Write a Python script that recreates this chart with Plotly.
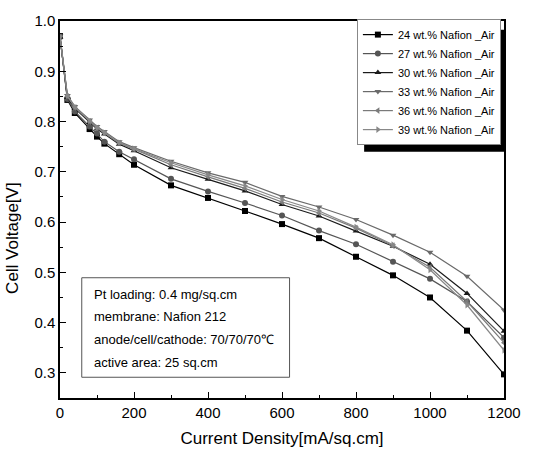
import plotly.graph_objects as go

# current density [mA/sq.cm]
current = [0, 20, 40, 80, 100, 120, 160, 200, 300, 400, 500, 600, 700, 800, 900, 1000, 1100, 1200]

# cell voltage [V] per Nafion loading
v24 = [0.970, 0.843, 0.817, 0.785, 0.770, 0.756, 0.735, 0.714, 0.673, 0.648, 0.622, 0.596, 0.568, 0.531, 0.494, 0.450, 0.384, 0.297]
v27 = [0.968, 0.845, 0.820, 0.790, 0.776, 0.760, 0.740, 0.725, 0.686, 0.661, 0.638, 0.613, 0.583, 0.556, 0.521, 0.487, 0.442, 0.370]
v30 = [0.968, 0.848, 0.826, 0.798, 0.785, 0.775, 0.755, 0.742, 0.708, 0.685, 0.662, 0.635, 0.612, 0.582, 0.552, 0.516, 0.458, 0.383]
v33 = [0.970, 0.852, 0.830, 0.803, 0.790, 0.780, 0.760, 0.748, 0.721, 0.698, 0.679, 0.651, 0.630, 0.605, 0.574, 0.540, 0.492, 0.425]
v36 = [0.968, 0.850, 0.828, 0.800, 0.787, 0.777, 0.757, 0.745, 0.714, 0.690, 0.667, 0.640, 0.618, 0.588, 0.553, 0.510, 0.442, 0.360]
v39 = [0.969, 0.851, 0.829, 0.801, 0.788, 0.778, 0.758, 0.746, 0.718, 0.694, 0.672, 0.645, 0.622, 0.590, 0.555, 0.505, 0.435, 0.345]

names = ['24 wt.% Nafion _Air', '27 wt.% Nafion _Air', '30 wt.% Nafion _Air',
         '33 wt.% Nafion _Air', '36 wt.% Nafion _Air', '39 wt.% Nafion _Air']
series = [v24, v27, v30, v33, v36, v39]
colors = ['#000000', '#555555', '#1a1a1a', '#6a6a6a', '#7a7a7a', '#888888']
symbols = ['square', 'circle', 'triangle-up', 'triangle-down', 'triangle-left', 'triangle-right']

info = ['Pt loading: 0.4 mg/sq.cm', 'membrane: Nafion 212',
        'anode/cell/cathode: 70/70/70\u2103', 'active area: 25 sq.cm']

fig = go.Figure()
for name, vals, c, s in zip(names, series, colors, symbols):
    fig.add_trace(go.Scatter(
        x=current, y=vals, mode='lines+markers', name=name,
        line=dict(color=c, width=1.2),
        marker=dict(symbol=s, size=6, color=c)
    ))

font = 'Arial, Liberation Sans, sans-serif'

# legend shadow
fig.add_shape(type='rect', xref='paper', yref='paper',
              x0=0.685, x1=1.0, y0=0.653, y1=0.977,
              fillcolor='black', line=dict(width=0), layer='above')

# info box
fig.add_shape(type='rect', xref='paper', yref='paper',
              x0=0.049, x1=0.517, y0=0.055, y1=0.319,
              fillcolor='white', line=dict(color='#555555', width=1))
for i, t in enumerate(info):
    fig.add_annotation(text=t, xref='paper', yref='paper',
                       x=0.072, y=[0.274, 0.215, 0.154, 0.094][i],
                       xanchor='left', yanchor='middle', showarrow=False,
                       font=dict(size=13, color='black', family=font))

# y axis title (sits a little below centre in the original)
fig.add_annotation(text='Cell Voltage[V]', xref='paper', yref='paper',
                   x=-0.107, y=0.426, textangle=-90, showarrow=False,
                   xanchor='center', yanchor='middle',
                   font=dict(size=17, color='black', family=font))

fig.update_layout(
    width=533, height=457,
    margin=dict(l=60, r=26, t=15, b=59),
    plot_bgcolor='white', paper_bgcolor='white',
    font=dict(family=font, color='black'),
    showlegend=True,
    legend=dict(x=0.993, y=1.005, xanchor='right', yanchor='top',
                bgcolor='white', bordercolor='#888888', borderwidth=1,
                font=dict(size=11), tracegroupgap=0,
                itemwidth=30),
    xaxis=dict(range=[0, 1200], tickvals=[0, 200, 400, 600, 800, 1000, 1200],
               ticks='inside', ticklen=6, tickcolor='black',
               minor=dict(dtick=100, ticks='inside', ticklen=3, tickcolor='black'),
               showline=True, linecolor='black', linewidth=1.5, mirror=True,
               showgrid=False, zeroline=False, tickfont=dict(size=15),
               title=dict(text='Current Density[mA/sq.cm]', font=dict(size=17), standoff=12)),
    yaxis=dict(range=[0.25, 1.0], tickvals=[0.3, 0.4, 0.5, 0.6, 0.7, 0.8, 0.9, 1.0],
               tickformat='.1f',
               ticks='inside', ticklen=6, tickcolor='black',
               minor=dict(dtick=0.05, tick0=0.25, ticks='inside', ticklen=3, tickcolor='black'),
               showline=True, linecolor='black', linewidth=1.5, mirror=True,
               showgrid=False, zeroline=False, tickfont=dict(size=15)),
)

fig.write_html("out.html", config={'displayModeBar': False},
               post_script="document.body.style.margin='0';")
